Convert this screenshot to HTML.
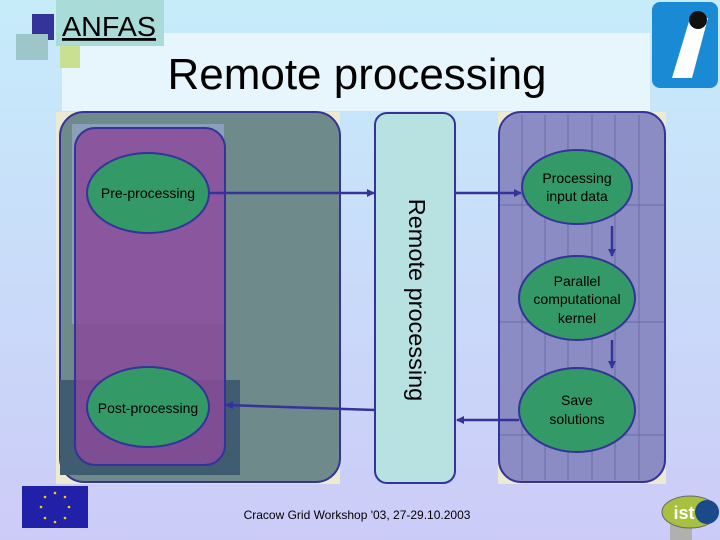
<!DOCTYPE html>
<html><head><style>body{margin:0}svg{display:block}</style></head><body>
<svg width="720" height="540" viewBox="0 0 720 540" xmlns="http://www.w3.org/2000/svg" font-family="Liberation Sans, sans-serif">
<defs>
<linearGradient id="bg" x1="0" y1="0" x2="0" y2="1"><stop offset="0" stop-color="#c6ecfa"/><stop offset="1" stop-color="#cccbf8"/></linearGradient>
<marker id="a" markerWidth="8" markerHeight="8" refX="7" refY="4" orient="auto" markerUnits="userSpaceOnUse"><path d="M0,0 L8,4 L0,8 z" fill="#33339a"/></marker>
</defs>
<rect width="720" height="540" fill="url(#bg)"/>
<rect x="62" y="33" width="588" height="78" fill="#e6f6fc"/>
<rect x="32" y="14" width="22" height="26" fill="#33339a"/>
<rect x="16" y="34" width="32" height="26" fill="#9cc6c8"/>
<rect x="60" y="44" width="20" height="24" fill="#c8e090"/>
<rect x="56" y="0" width="108" height="46" fill="#a9dcd8"/>
<text x="62" y="36" font-size="28" fill="#000" text-decoration="underline" textLength="94" lengthAdjust="spacingAndGlyphs">ANFAS</text>
<text x="357" y="89" font-size="44" text-anchor="middle" fill="#000">Remote processing</text>
<rect x="652" y="2" width="66" height="86" rx="8" fill="#1a8ad4"/>
<path d="M672 78 L690 18 L708 18 L692 78 z" fill="#fff"/>
<circle cx="698" cy="20" r="9" fill="#111"/>
<rect x="56" y="112" width="284" height="372" fill="#ecead0"/>
<rect x="60" y="112" width="280" height="370" rx="24" fill="#6e8a8a" stroke="#33339a" stroke-width="2"/>
<rect x="72" y="124" width="152" height="200" fill="#8aa0b8"/>
<rect x="60" y="380" width="180" height="95" fill="#405c70"/>
<rect x="75" y="128" width="150" height="337" rx="20" fill="#8a4a9a" fill-opacity="0.85" stroke="#33339a" stroke-width="2"/>
<ellipse cx="148" cy="193" rx="61" ry="40" fill="#339966" stroke="#33339a" stroke-width="2"/>
<text x="148" y="198" font-size="14" text-anchor="middle">Pre-processing</text>
<ellipse cx="148" cy="407" rx="61" ry="40" fill="#339966" stroke="#33339a" stroke-width="2"/>
<text x="148" y="413" font-size="14" text-anchor="middle">Post-processing</text>
<rect x="375" y="113" width="80" height="370" rx="12" fill="#b8e2e2" stroke="#33339a" stroke-width="2"/>
<text transform="translate(409,300) rotate(90)" font-size="23.5" text-anchor="middle">Remote processing</text>
<rect x="498" y="112" width="168" height="372" fill="#ecead0"/>
<rect x="499" y="112" width="166" height="370" rx="22" fill="#8c8cc4" stroke="#33339a" stroke-width="2"/>
<g stroke="#6a6aa8" stroke-width="1" fill="none">
<path d="M522 115V480M545 115V480M568 115V480M592 115V480M615 115V480M639 115V480"/>
<path d="M500 205H664M500 322H664M500 435H664"/>
</g>
<ellipse cx="577" cy="187" rx="55" ry="37" fill="#339966" stroke="#33339a" stroke-width="2"/>
<text x="577" y="183" font-size="14" text-anchor="middle">Processing</text>
<text x="577" y="201" font-size="14" text-anchor="middle">input data</text>
<ellipse cx="577" cy="298" rx="58" ry="42" fill="#339966" stroke="#33339a" stroke-width="2"/>
<text x="577" y="286" font-size="14" text-anchor="middle">Parallel</text>
<text x="577" y="304" font-size="14" text-anchor="middle">computational</text>
<text x="577" y="323" font-size="14" text-anchor="middle">kernel</text>
<ellipse cx="577" cy="410" rx="58" ry="42" fill="#339966" stroke="#33339a" stroke-width="2"/>
<text x="577" y="405" font-size="14" text-anchor="middle">Save</text>
<text x="577" y="424" font-size="14" text-anchor="middle">solutions</text>
<g stroke="#33339a" stroke-width="2.5" fill="none" marker-end="url(#a)">
<path d="M209 193H374"/>
<path d="M456 193H521"/>
<path d="M612 226V256"/>
<path d="M612 340V368"/>
<path d="M519 420H457"/>
<path d="M375 410L226 405"/>
</g>
<rect x="22" y="486" width="66" height="42" fill="#2020a8"/>
<g fill="#ffcc00"><circle cx="55" cy="493" r="1.3"/><circle cx="55" cy="522" r="1.3"/><circle cx="41" cy="507" r="1.3"/><circle cx="69" cy="507" r="1.3"/><circle cx="45" cy="497" r="1.3"/><circle cx="65" cy="497" r="1.3"/><circle cx="45" cy="518" r="1.3"/><circle cx="65" cy="518" r="1.3"/></g>
<text x="357" y="519" font-size="12" text-anchor="middle">Cracow Grid Workshop '03, 27-29.10.2003</text>
<rect x="670" y="508" width="22" height="32" fill="#b0b0b0"/>
<ellipse cx="690" cy="512" rx="28" ry="16" fill="#a8c040" stroke="#666"/>
<circle cx="707" cy="512" r="12" fill="#1a4a8a"/>
<text x="684" y="519" font-size="18" font-weight="bold" fill="#fff" text-anchor="middle">ist</text>
</svg>
</body></html>
